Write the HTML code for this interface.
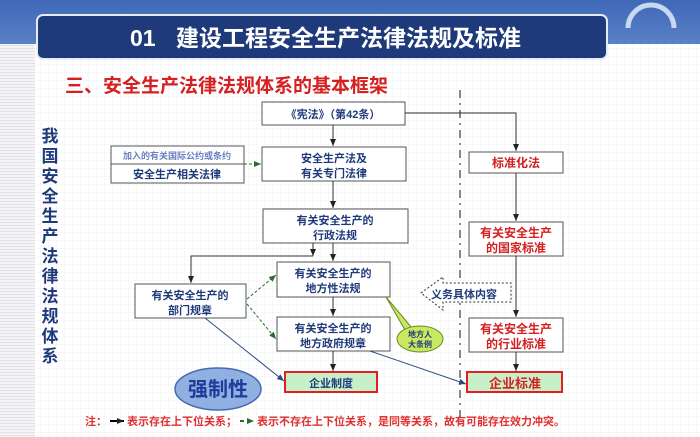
<!DOCTYPE html>
<html><head><meta charset="utf-8"><style>
html,body{margin:0;padding:0;width:700px;height:437px;overflow:hidden;background:#fff}
svg{display:block}
text{font-family:"Liberation Sans","Noto Sans CJK SC",sans-serif;font-weight:bold}
</style></head><body>
<svg width="700" height="437" viewBox="0 0 700 437" xmlns="http://www.w3.org/2000/svg">
<defs>
<pattern id="grid" width="8" height="8" patternUnits="userSpaceOnUse"><path d="M8 0H0V8" fill="none" stroke="#eef0f4" stroke-width="1"/></pattern>
<pattern id="lines" width="4" height="3" patternUnits="userSpaceOnUse"><rect width="4" height="3" fill="#f4f4f6"/><rect width="4" height="1" fill="#e2e2e6"/></pattern>
<linearGradient id="top" x1="0" y1="0" x2="0" y2="1"><stop offset="0" stop-color="#3f68b8"/><stop offset="1" stop-color="#5a80c6"/></linearGradient>
<marker id="a" markerWidth="8" markerHeight="8" refX="7" refY="4" orient="auto" markerUnits="userSpaceOnUse"><path d="M0,1 L7,4 L0,7z" fill="#222"/></marker>
<marker id="g" markerWidth="8" markerHeight="8" refX="7" refY="4" orient="auto" markerUnits="userSpaceOnUse"><path d="M0,1 L7,4 L0,7z" fill="#2d6a2d"/></marker>
<marker id="b" markerWidth="8" markerHeight="8" refX="7" refY="4" orient="auto" markerUnits="userSpaceOnUse"><path d="M0,1 L7,4 L0,7z" fill="#2c4a80"/></marker>
</defs>
<rect width="700" height="437" fill="url(#grid)"/>
<rect x="0" y="0" width="700" height="44" fill="url(#top)"/>
<rect x="0" y="44" width="35" height="393" fill="url(#lines)"/>
<path d="M628 28 A22 22 0 0 1 674 28" fill="none" stroke="#c8d8f0" stroke-width="5"/>
<rect x="37" y="15" width="570" height="44" rx="6" fill="#1f3a7a" stroke="#e8ecf4" stroke-width="2"/>
<text x="130" y="46" font-size="23" fill="#fff">01</text>
<text x="176" y="46" font-size="23" fill="#fff">建设工程安全生产法律法规及标准</text>
<text x="65" y="92" font-size="19" fill="#d42020">三、安全生产法律法规体系的基本框架</text>
<g font-size="17" fill="#1f3a7a" text-anchor="middle">
<text x="50" y="142">我</text><text x="50" y="162">国</text><text x="50" y="182">安</text><text x="50" y="202">全</text><text x="50" y="222">生</text><text x="50" y="242">产</text><text x="50" y="262">法</text><text x="50" y="282">律</text><text x="50" y="302">法</text><text x="50" y="322">规</text><text x="50" y="342">体</text><text x="50" y="362">系</text>
</g>
<line x1="460" y1="90" x2="460" y2="430" stroke="#888" stroke-width="2" stroke-dasharray="8,5,2,5"/>
<g stroke="#555" stroke-width="1" fill="#fff">
<rect x="262" y="102" width="143" height="23"/>
<rect x="111" y="146" width="133" height="37"/>
<rect x="262" y="147" width="144" height="34"/>
<rect x="263" y="209" width="145" height="34"/>
<rect x="277" y="262" width="113" height="35"/>
<rect x="135" y="284" width="111" height="34"/>
<rect x="277" y="317" width="113" height="34"/>
<rect x="469" y="152" width="94" height="21"/>
<rect x="469" y="222" width="94" height="34"/>
<rect x="469" y="318" width="94" height="34"/>
</g>
<line x1="111" y1="164" x2="244" y2="164" stroke="#555"/>
<rect x="285" y="372" width="92" height="20" fill="#c8f0c8" stroke="#e02020" stroke-width="2"/>
<rect x="467" y="372" width="95" height="20" fill="#c8f0c8" stroke="#e02020" stroke-width="2"/>
<g fill="none" stroke="#333" stroke-width="1">
<line x1="333" y1="125" x2="333" y2="146" marker-end="url(#a)"/>
<polyline points="405,113 516,113 516,151" marker-end="url(#a)"/>
<line x1="333" y1="181" x2="333" y2="208" marker-end="url(#a)"/>
<line x1="333" y1="243" x2="333" y2="261" marker-end="url(#a)"/>
<line x1="313" y1="243" x2="313" y2="256" marker-end="url(#a)"/>
<polyline points="313,256 191,256 191,283" marker-end="url(#a)"/>
<line x1="333" y1="297" x2="333" y2="316" marker-end="url(#a)"/>
<line x1="333" y1="351" x2="333" y2="371" marker-end="url(#a)"/>
<line x1="516" y1="173" x2="516" y2="221" marker-end="url(#a)"/>
<line x1="516" y1="256" x2="516" y2="317" marker-end="url(#a)"/>
<line x1="516" y1="352" x2="516" y2="371" marker-end="url(#a)"/>
</g>
<g fill="none" stroke="#2c4a80" stroke-width="1">
<line x1="205" y1="318" x2="284" y2="381" marker-end="url(#b)"/>
<line x1="370" y1="351" x2="466" y2="384" marker-end="url(#b)"/>
</g>
<g fill="none" stroke="#2d6a2d" stroke-width="1" stroke-dasharray="3,2">
<line x1="244" y1="164" x2="261" y2="164" marker-end="url(#g)"/>
<line x1="247" y1="299" x2="276" y2="275" marker-end="url(#g)"/>
<line x1="247" y1="304" x2="276" y2="339" marker-end="url(#g)"/>
</g>
<g font-size="11" text-anchor="middle" fill="#1f3a7a">
<text x="333" y="118">《宪法》（第42条）</text>
<text x="177" y="159" font-size="9" fill="#6a80c0">加入的有关国际公约或条约</text>
<text x="177" y="178">安全生产相关法律</text>
<text x="334" y="162">安全生产法及</text><text x="334" y="177">有关专门法律</text>
<text x="335" y="224">有关安全生产的</text><text x="335" y="239">行政法规</text>
<text x="333" y="277">有关安全生产的</text><text x="333" y="292">地方性法规</text>
<text x="190" y="299">有关安全生产的</text><text x="190" y="314">部门规章</text>
<text x="333" y="332">有关安全生产的</text><text x="333" y="347">地方政府规章</text>
<text x="331" y="387" font-weight="normal" font-family="Liberation Serif,Noto Serif CJK SC,serif">企业制度</text>
</g>
<g font-size="12" text-anchor="middle" fill="#d42020">
<text x="516" y="167">标准化法</text>
<text x="516" y="237">有关安全生产</text><text x="516" y="252">的国家标准</text>
<text x="516" y="333">有关安全生产</text><text x="516" y="348">的行业标准</text>
<text x="515" y="388" font-size="13" font-weight="normal" font-family="Liberation Serif,Noto Serif CJK SC,serif">企业标准</text>
</g>
<ellipse cx="218" cy="389" rx="43" ry="21" fill="#8fb0e0" stroke="#4a6ab0" stroke-width="1.5"/>
<text x="218" y="396" font-size="20" fill="#1f3a9a" text-anchor="middle">强制性</text>
<path d="M386 297 L405 330 L412 328z" fill="#c8e860" stroke="#6a8a20"/>
<ellipse cx="420" cy="339" rx="23" ry="13" fill="#c8e860" stroke="#6a8a20"/>
<text x="420" y="337" font-size="8" text-anchor="middle" fill="#1f3a7a">地方人</text>
<text x="420" y="347" font-size="8" text-anchor="middle" fill="#1f3a7a">大条例</text>
<path d="M421 293 L443 277 L443 283 L511 283 L511 302 L443 302 L443 310z" fill="#fff" stroke="#333" stroke-dasharray="2,2"/>
<text x="464" y="298" font-size="11" fill="#1f3a7a" text-anchor="middle">义务具体内容</text>
<text x="85" y="425" font-size="11" fill="#e03030">注：</text>
<line x1="110" y1="421" x2="124" y2="421" stroke="#000" stroke-width="2" marker-end="url(#a)"/>
<text x="127" y="425" font-size="11" fill="#e03030">表示存在上下位关系；</text>
<line x1="240" y1="421" x2="254" y2="421" stroke="#2d6a2d" stroke-width="2" stroke-dasharray="4,4" marker-end="url(#g)"/>
<text x="257" y="425" font-size="11" fill="#e03030">表示不存在上下位关系，是同等关系，故有可能存在效力冲突。</text>
</svg>
</body></html>
